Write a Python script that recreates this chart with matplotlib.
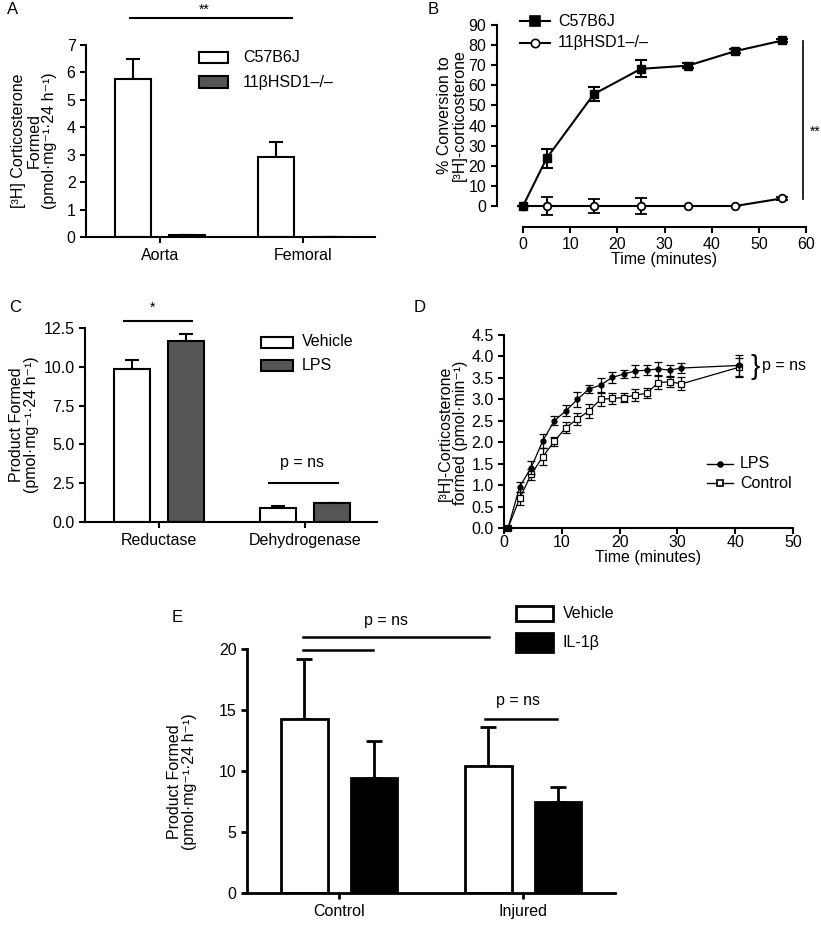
import numpy as np
import matplotlib
matplotlib.use("Agg")
import matplotlib.pyplot as plt
from matplotlib.patches import Rectangle
from matplotlib.lines import Line2D

plt.rcParams['font.family'] = ['Liberation Sans', 'DejaVu Sans']
plt.rcParams['font.size'] = 11.5
plt.rcParams['axes.linewidth'] = 1.5
plt.rcParams['xtick.major.width'] = 1.5
plt.rcParams['ytick.major.width'] = 1.5
plt.rcParams['xtick.major.size'] = 4
plt.rcParams['ytick.major.size'] = 4

# --- panel A data
a_groups = ['Aorta', 'Femoral']
a_wt = [5.75, 2.9]
a_wt_err = [0.75, 0.55]
a_ko = [0.06, 0.0]
a_ko_err = [0.0, 0.0]

# --- panel B data
b_time = [0, 5, 15, 25, 35, 45, 55]
b_wt = [0, 23.7, 55.6, 68.2, 69.8, 77.0, 82.3]
b_wt_err = [0, 4.6, 3.5, 4.3, 1.2, 1.0, 0.8]
b_ko = [0, 0, 0, 0, 0, 0, 3.8]
b_ko_err = [0, 4.6, 3.5, 4.2, 0, 0, 0.8]

# --- panel C data
c_groups = ['Reductase', 'Dehydrogenase']
c_veh = [9.85, 0.88]
c_veh_err = [0.6, 0.13]
c_lps = [11.65, 1.2]
c_lps_err = [0.45, 0.05]

# --- panel D data
d_time = [0.7, 2.7, 4.7, 6.7, 8.7, 10.7, 12.7, 14.7, 16.7, 18.7, 20.7,
          22.7, 24.7, 26.7, 28.7, 30.7, 40.7]
d_lps = [0.0, 0.96, 1.41, 2.03, 2.5, 2.73, 3.0, 3.24, 3.33, 3.51, 3.59,
         3.66, 3.68, 3.71, 3.68, 3.73, 3.79]
d_lps_err = [0, 0.12, 0.15, 0.17, 0.1, 0.13, 0.18, 0.1, 0.17, 0.13, 0.1,
             0.15, 0.12, 0.15, 0.13, 0.12, 0.25]
d_ctl = [0.0, 0.69, 1.25, 1.66, 2.02, 2.34, 2.54, 2.73, 3.0, 3.02, 3.04,
         3.1, 3.14, 3.39, 3.41, 3.36, 3.75]
d_ctl_err = [0, 0.15, 0.12, 0.2, 0.1, 0.12, 0.15, 0.17, 0.15, 0.12, 0.1,
             0.13, 0.12, 0.15, 0.12, 0.15, 0.22]

# --- panel E data
e_groups = ['Control', 'Injured']
e_veh = [14.3, 10.45]
e_veh_err = [4.9, 3.15]
e_il = [9.4, 7.45]
e_il_err = [3.05, 1.2]

W, H = 821, 925
DARK = '#555555'


def box(x0, y0, x1, y1):
    return [x0 / W, 1 - y1 / H, (x1 - x0) / W, (y1 - y0) / H]


def fx(x):
    return x / W


def fy(y):
    return 1 - y / H


def ftext(x, y, s, **kw):
    kw.setdefault('ha', 'center')
    kw.setdefault('va', 'center')
    fig.text(fx(x), fy(y), s, **kw)


def legend_box(x0, y0, x1, y1, color, lw=1.5):
    fig.patches.append(Rectangle((fx(x0), fy(y1)), (x1 - x0) / W, (y1 - y0) / H,
                                 facecolor=color, edgecolor='black', linewidth=lw,
                                 transform=fig.transFigure, figure=fig))


def legend_line(x0, x1, y, marker, mfc, ms, lw):
    fig.lines.append(Line2D([fx(x0), fx(x1)], [fy(y), fy(y)], color='black', lw=lw,
                            transform=fig.transFigure, figure=fig))
    fig.lines.append(Line2D([fx((x0 + x1) / 2)], [fy(y)], marker=marker, color='black',
                            mfc=mfc, ms=ms, mew=1.2, transform=fig.transFigure, figure=fig))


def bar_panel(ax, groups, v1, e1, v2, e2, c2, off, width, capsize, lw):
    x = np.arange(len(groups))
    ax.bar(x - off, v1, width, color='white', edgecolor='black', linewidth=lw, zorder=2)
    ax.bar(x + off, v2, width, color=c2, edgecolor='black', linewidth=lw, zorder=2)
    ax.errorbar(x - off, v1, yerr=[np.zeros(len(v1)), e1], fmt='none', ecolor='black',
                elinewidth=lw, capsize=capsize, capthick=lw, zorder=1)
    ax.errorbar(x + off, v2, yerr=[np.zeros(len(v2)), e2], fmt='none', ecolor='black',
                elinewidth=lw, capsize=capsize, capthick=lw, zorder=1)
    ax.set_xticks(x)
    ax.set_xticklabels(groups)
    ax.spines['top'].set_visible(False)
    ax.spines['right'].set_visible(False)
    ax.tick_params(axis='x', length=4, pad=4)


fig = plt.figure(figsize=(W / 100, H / 100), dpi=100)

# ---------------- A
ax = fig.add_axes(box(86, 45, 375, 237))
bar_panel(ax, a_groups, a_wt, a_wt_err, a_ko, a_ko_err, DARK, 0.19, 0.25, 5, 1.5)
ax.set_xlim(-0.517, 1.503)
ax.set_ylim(0, 7)
ax.set_yticks(range(0, 8))
ax.plot([-0.21, 0.92], [8.0, 8.0], color='black', lw=1.5, clip_on=False)
ftext(204, 10, '**', fontsize=10)
ftext(34, 141, '[³H] Corticosterone\nFormed\n(pmol·mg⁻¹·24 h⁻¹)', rotation=90,
      multialignment='center', linespacing=1.05)
ftext(13, 10, 'A', fontsize=12)
legend_box(199, 52, 228, 63, 'white')
legend_box(199, 76, 228, 88, DARK)
ftext(243, 57, 'C57B6J', ha='left')
ftext(243, 82, '11βHSD1–/–', ha='left')

# ---------------- B
ax = fig.add_axes(box(523, 25, 806, 206))
ax.errorbar(b_time, b_wt, yerr=b_wt_err, color='black', marker='s', ms=6, lw=1.5,
            capsize=4, capthick=1.5, elinewidth=1.5, clip_on=False, zorder=3)
ax.errorbar(b_time, b_ko, yerr=b_ko_err, color='black', marker='o', ms=5.5, mfc='white',
            mew=1.3, lw=1.5, capsize=4, capthick=1.5, elinewidth=1.5, clip_on=False, zorder=2)
ax.set_xlim(0, 60)
ax.set_ylim(0, 90)
ax.set_xticks(range(0, 61, 10))
ax.set_yticks(range(0, 91, 10))
ax.spines['top'].set_visible(False)
ax.spines['right'].set_visible(False)
ax.spines['left'].set_position(('outward', 19))
ax.spines['bottom'].set_position(('outward', 15))
ax.set_xlabel('Time (minutes)', labelpad=0)
ax.plot([59.3, 59.3], [3.5, 82], color='black', lw=1.2, clip_on=False)
ax.text(61.9, 37, '**', ha='center', va='center', fontsize=10)
ftext(452, 115, '% Conversion to\n[³H]-corticosterone', rotation=90,
      multialignment='center', linespacing=1.05)
ftext(433, 9, 'B', fontsize=12)
legend_line(520, 550, 21, 's', 'black', 6.5, 1.5)
legend_line(520, 550, 43, 'o', 'white', 6, 1.5)
ftext(558, 21, 'C57B6J', ha='left')
ftext(558, 43, '11βHSD1–/–', ha='left')

# ---------------- C
ax = fig.add_axes(box(85, 328, 377, 522))
bar_panel(ax, c_groups, c_veh, c_veh_err, c_lps, c_lps_err, DARK, 0.185, 0.25, 5, 1.5)
ax.set_xlim(-0.507, 1.493)
ax.set_ylim(0, 12.5)
ax.set_yticks(np.arange(0, 12.6, 2.5))
ax.set_yticklabels(['0.0', '2.5', '5.0', '7.5', '10.0', '12.5'])
ax.plot([-0.24, 0.226], [12.95, 12.95], color='black', lw=1.5, clip_on=False)
ax.plot([0.753, 1.226], [2.5, 2.5], color='black', lw=1.5, clip_on=False)
ftext(153, 308, '*', fontsize=10)
ftext(302, 463, 'p = ns')
ftext(24, 425, 'Product Formed\n(pmol·mg⁻¹·24 h⁻¹)', rotation=90,
      multialignment='center', linespacing=1.05)
ftext(15, 308, 'C', fontsize=12)
legend_box(261, 337, 293, 348, 'white')
legend_box(261, 360, 293, 371, DARK)
ftext(302, 342, 'Vehicle', ha='left')
ftext(302, 366, 'LPS', ha='left')

# ---------------- D
ax = fig.add_axes(box(504, 335, 793, 528))
ax.errorbar(d_time, d_lps, yerr=d_lps_err, color='black', marker='o', ms=3.5, lw=0.9,
            capsize=3, capthick=0.9, elinewidth=0.9, clip_on=False, zorder=3)
ax.errorbar(d_time, d_ctl, yerr=d_ctl_err, color='black', marker='s', ms=4, mfc='white',
            mew=0.9, lw=0.9, capsize=3, capthick=0.9, elinewidth=0.9, clip_on=False, zorder=2)
ax.set_xlim(0, 50)
ax.set_ylim(0, 4.5)
ax.set_xticks(range(0, 51, 10))
ax.set_yticks(np.arange(0, 4.51, 0.5))
ax.set_yticklabels(['%.1f' % v for v in np.arange(0, 4.51, 0.5)])
ax.spines['top'].set_visible(False)
ax.spines['right'].set_visible(False)
ax.tick_params(axis='x', pad=1)
ax.set_xlabel('Time (minutes)', labelpad=0)
ax.text(43.4, 3.75, '}', fontsize=20, ha='center', va='center')
ax.text(44.6, 3.78, 'p = ns', ha='left', va='center')
ftext(453, 433, '[³H]-Corticosterone\nformed (pmol·min⁻¹)', rotation=90,
      multialignment='center', linespacing=1.05)
ftext(420, 308, 'D', fontsize=12)
legend_line(707, 733, 464, 'o', 'black', 3.5, 1)
legend_line(707, 733, 483, 's', 'white', 4, 1)
ftext(740, 464, 'LPS', ha='left')
ftext(740, 483, 'Control', ha='left')

# ---------------- E
ax = fig.add_axes(box(247, 649, 615, 893))
bar_panel(ax, e_groups, e_veh, e_veh_err, e_il, e_il_err, 'black', 0.19, 0.255, 6, 2)
ax.set_xlim(-0.5, 1.5)
ax.set_ylim(0, 20)
ax.set_yticks(range(0, 21, 5))
for s in ['left', 'bottom']:
    ax.spines[s].set_linewidth(2)
ax.tick_params(width=2)
ax.plot([-0.196, 0.815], [20.98, 20.98], color='black', lw=1.8, clip_on=False)
ax.plot([-0.196, 0.185], [19.9, 19.9], color='black', lw=1.8, clip_on=False)
ax.plot([0.793, 1.185], [14.26, 14.26], color='black', lw=1.8, clip_on=False)
ftext(386, 620, 'p = ns')
ftext(518, 701, 'p = ns')
ftext(182, 782, 'Product Formed\n(pmol·mg⁻¹·24 h⁻¹)', rotation=90,
      multialignment='center', linespacing=1.05)
ftext(177, 617, 'E', fontsize=12)
legend_box(516, 606, 553, 621, 'white', lw=2)
legend_box(516, 633, 553, 652, 'black', lw=2)
ftext(563, 613, 'Vehicle', ha='left')
ftext(563, 643, 'IL-1β', ha='left')

fig.savefig('out.png', dpi=100)
